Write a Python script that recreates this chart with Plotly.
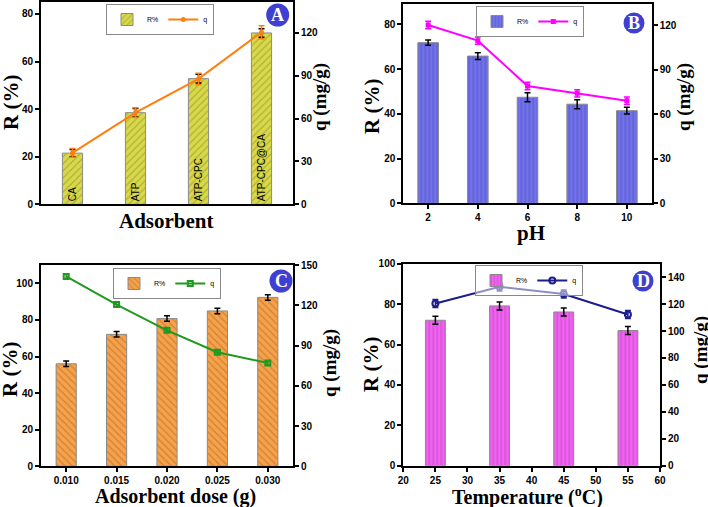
import plotly.graph_objects as go

W, H = 708, 507

# ---- Panel A: tipo de adsorbente ----
adsorbentes = ["CA", "ATP", "ATP-CPC", "ATP-CPC@CA"]
R_A = [21.5, 38.5, 52.8, 72.0]
R_A_err = [1.5, 1.8, 1.8, 1.8]
q_A = [36.0, 64.2, 87.8, 120.5]
q_A_err = [3.0, 3.5, 4.0, 4.5]

# ---- Panel B: pH ----
pH = [2, 4, 6, 8, 10]
R_B = [71.8, 65.8, 47.4, 44.3, 41.4]
R_B_err = [1.2, 1.5, 2.0, 2.0, 1.5]
q_B = [120.0, 109.5, 79.0, 74.0, 69.0]
q_B_err = [2.5, 2.5, 2.5, 2.5, 2.5]

# ---- Panel C: dosis de adsorbente ----
dosis = [0.010, 0.015, 0.020, 0.025, 0.030]
R_C = [56.0, 72.1, 80.7, 84.9, 92.3]
R_C_err = [1.5, 1.5, 1.5, 1.5, 1.5]
q_C = [141.5, 120.5, 101.3, 85.0, 77.0]
q_C_err = [1.5, 1.5, 1.5, 1.5, 1.5]

# ---- Panel D: temperatura ----
temperatura = [25, 35, 45, 55]
R_D = [72.0, 79.1, 76.1, 66.9]
R_D_err = [2.0, 2.0, 2.0, 2.0]
q_D = [120.5, 132.8, 127.5, 112.3]
q_D_err = [3.0, 3.0, 3.0, 3.0]


def px(x):
    return x / W


def py(y):
    return 1 - y / H


fig = go.Figure()

# Barras y lineas
fig.add_trace(go.Bar(
    x=adsorbentes, y=R_A, name="R%", width=0.32,
    text=adsorbentes, textposition="inside", insidetextanchor="start",
    textangle=-90, textfont=dict(family="Liberation Sans", size=10, color="black"),
    marker=dict(color="#d8d84c", line=dict(color="#8a8a8a", width=1),
                pattern=dict(shape="/", fgcolor="#8a8a18", fillmode="overlay", size=5, solidity=0.25)),
    error_y=dict(type="data", array=R_A_err, color="black", thickness=1.5, width=3),
    xaxis="x", yaxis="y", legend="legend"))
fig.add_trace(go.Scatter(
    x=adsorbentes, y=q_A, name="q", mode="lines+markers",
    line=dict(color="#ff7f0e", width=2), marker=dict(size=5, color="#ff7f0e"),
    error_y=dict(type="data", array=q_A_err, color="#ff7f0e", thickness=1.5, width=3),
    xaxis="x", yaxis="y2", legend="legend"))

fig.add_trace(go.Bar(
    x=pH, y=R_B, name="R%", width=0.83,
    marker=dict(color="#7272ec", line=dict(color="#8a8a8a", width=1),
                pattern=dict(shape="|", fgcolor="#4444b0", fillmode="overlay", size=4, solidity=0.3)),
    error_y=dict(type="data", array=R_B_err, color="black", thickness=1.5, width=3),
    xaxis="x2", yaxis="y3", legend="legend2"))
fig.add_trace(go.Scatter(
    x=pH, y=q_B, name="q", mode="lines+markers",
    line=dict(color="#ff00ff", width=2), marker=dict(size=5, symbol="square", color="#ff00ff"),
    error_y=dict(type="data", array=q_B_err, color="#ff00ff", thickness=1.5, width=3),
    xaxis="x2", yaxis="y4", legend="legend2"))

fig.add_trace(go.Bar(
    x=dosis, y=R_C, name="R%", width=0.002,
    marker=dict(color="#f5a24c", line=dict(color="#8a8a8a", width=1),
                pattern=dict(shape="\\", fgcolor="#b0601a", fillmode="overlay", size=5, solidity=0.25)),
    error_y=dict(type="data", array=R_C_err, color="black", thickness=1.5, width=3),
    xaxis="x3", yaxis="y5", legend="legend3"))
fig.add_trace(go.Scatter(
    x=dosis, y=q_C, name="q", mode="lines+markers",
    line=dict(color="#1f9a1f", width=2),
    marker=dict(size=5, symbol="square-open", color="#1f9a1f", line=dict(width=2)),
    error_y=dict(type="data", array=q_C_err, color="#1f9a1f", thickness=1.5, width=3),
    xaxis="x3", yaxis="y6", legend="legend3"))

fig.add_trace(go.Bar(
    x=temperatura, y=R_D, name="R%", width=3.1,
    marker=dict(color="#f064f0", line=dict(color="#8a8a8a", width=1),
                pattern=dict(shape="|", fgcolor="#b030b0", fillmode="overlay", size=4, solidity=0.3)),
    error_y=dict(type="data", array=R_D_err, color="black", thickness=1.5, width=3),
    xaxis="x4", yaxis="y7", legend="legend4"))
fig.add_trace(go.Scatter(
    x=temperatura, y=q_D, name="q", mode="lines+markers",
    line=dict(color="#1c1c8c", width=2),
    marker=dict(size=6, symbol="circle-open", color="#1c1c8c", line=dict(width=2)),
    error_y=dict(type="data", array=q_D_err, color="#1c1c8c", thickness=1.5, width=3),
    xaxis="x4", yaxis="y8", legend="legend4"))

tickfont = dict(family="Liberation Sans", size=10, color="black", weight="bold")
eje = dict(showline=True, linecolor="black", linewidth=2, showgrid=False, zeroline=False,
           ticks="outside", ticklen=4, tickwidth=1.5, tickcolor="black",
           tickfont=tickfont, automargin=False)

# dominios en pixeles: (izq, der, arriba, abajo)
dominios = {
    1: (41, 293, 2, 204.3),
    2: (403.3, 651.7, 3.5, 203.3),
    3: (41, 293, 265, 466.3),
    4: (403.3, 660, 263.7, 465.7),
}
rangos = {
    1: dict(x=[-0.5, 3.5], y=[0, 85], y2=[0, 141.67], dy=20, dy2=30),
    2: dict(x=[1, 11], y=[0, 89.3], y2=[0, 134.5], dy=20, dy2=30),
    3: dict(x=[0.0075, 0.0325], y=[0, 110], y2=[0, 150], dy=20, dy2=30),
    4: dict(x=[20, 60], y=[0, 100], y2=[0, 150], dy=20, dy2=20),
}
xticks = {
    1: dict(showticklabels=False, ticks=""),
    2: dict(tickvals=pH),
    3: dict(tickvals=dosis, tickformat=".3f"),
    4: dict(dtick=5, tick0=20),
}

layout = {}
for i in range(1, 5):
    l, r, t, b = dominios[i]
    xs = "" if i == 1 else str(i)
    yl = 2 * i - 1
    yr = 2 * i
    yl_name = "" if yl == 1 else str(yl)
    layout["xaxis" + xs] = dict(eje, domain=[px(l), px(r)], range=rangos[i]["x"],
                                anchor="y" + yl_name, mirror=True, **xticks[i])
    if i == 1:
        layout["xaxis"]["type"] = "category"
    layout["yaxis" + yl_name] = dict(eje, domain=[py(b), py(t)], range=rangos[i]["y"],
                                     dtick=rangos[i]["dy"], anchor="x" + xs)
    layout["yaxis" + str(yr)] = dict(eje, domain=[py(b), py(t)], range=rangos[i]["y2"],
                                     dtick=rangos[i]["dy2"], anchor="x" + xs,
                                     overlaying="y" + yl_name, side="right")
    legname = "legend" if i == 1 else "legend" + str(i)
    layout[legname] = dict(orientation="h", xanchor="center", yanchor="top",
                           bgcolor="rgba(255,255,255,0.5)", bordercolor="#888888", borderwidth=1,
                           font=dict(family="Liberation Sans", size=7, color="black"),
                           itemwidth=30, entrywidth=0, tracegroupgap=0)

layout["legend"].update(x=px(160), y=py(4))
layout["legend2"].update(x=px(530), y=py(6))
layout["legend3"].update(x=px(167), y=py(268))
layout["legend4"].update(x=px(529), y=py(265))

fig.update_layout(**layout)

# Titulos de ejes
serif = "Liberation Serif"
titulos = [
    ("R (%)", 11, 103, -90, 21),
    ("q (mg/g)", 320, 97, -90, 19),
    ("Adsorbent", 166, 221, 0, 21),
    ("R (%)", 372, 107, -90, 21),
    ("q (mg/g)", 684, 97, -90, 19),
    ("pH", 531, 233, 0, 21),
    ("R (%)", 10, 370, -90, 21),
    ("q (mg/g)", 330, 363, -90, 19),
    ("Adsorbent dose (g)", 175, 496, 0, 20),
    ("R (%)", 371, 365, -90, 21),
    ("q (mg/g)", 701, 350, -90, 19),
    ("Temperature (<sup>o</sup>C)", 527, 496, 0, 20),
]
for texto, x, y, ang, tam in titulos:
    fig.add_annotation(text="<b>" + texto + "</b>", x=px(x), y=py(y), xref="paper", yref="paper",
                       showarrow=False, textangle=ang, xanchor="center", yanchor="middle",
                       font=dict(family=serif, size=tam, color="black"))

# Insignias A, B, C, D
insignias = [("A", 277.7, 15, 11.5), ("B", 634, 23, 10.5), ("C", 281, 281, 11.5), ("D", 643, 281, 10.5)]
for letra, cx, cy, rad in insignias:
    fig.add_shape(type="circle", xref="paper", yref="paper",
                  x0=px(cx - rad), x1=px(cx + rad), y0=py(cy + rad), y1=py(cy - rad),
                  fillcolor="#3f3fd2", line=dict(width=0))
    fig.add_annotation(text="<b>" + letra + "</b>", x=px(cx), y=py(cy), xref="paper", yref="paper",
                       showarrow=False, xanchor="center", yanchor="middle",
                       font=dict(family=serif, size=18, color="white"))

fig.update_layout(
    template="none",
    width=W, height=H,
    margin=dict(l=0, r=0, t=0, b=0),
    paper_bgcolor="white", plot_bgcolor="white",
    barmode="overlay",
)

# quitar el margen por defecto del body para que la figura quede en (0, 0)
fig.write_html("out.html", config={"displayModeBar": False},
               post_script="document.body.style.margin='0px';")
